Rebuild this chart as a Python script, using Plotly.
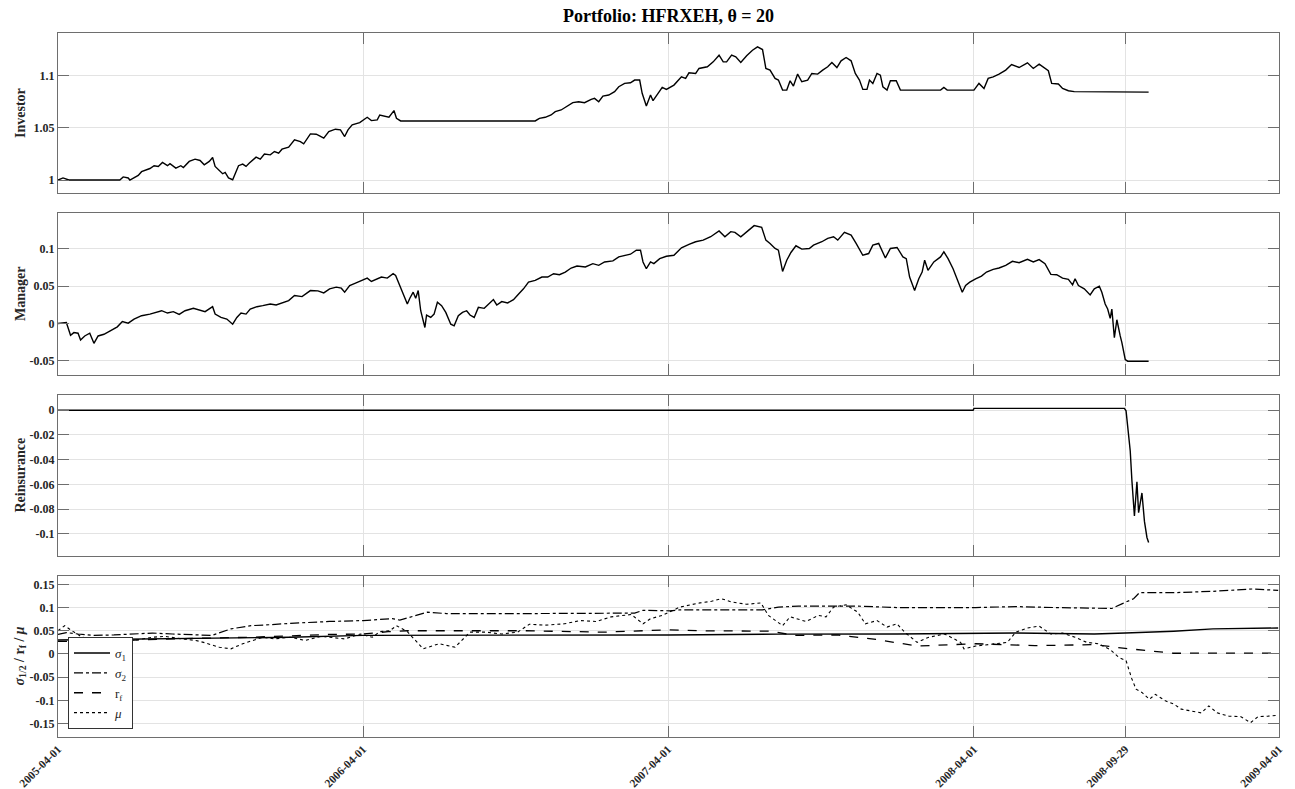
import pandas as pd
import plotly.graph_objects as go

# ---------------- data (days since 2005-04-01) -------------
START = "2005-04-01"

inv_days = [0, 6, 13, 74, 78, 84, 86, 96, 100, 110, 115, 120, 125, 131, 134, 141, 147, 150, 157, 164,
            170, 175, 181, 185, 188, 194, 197, 200, 204, 209, 213, 216, 221, 225, 229, 233, 237, 242, 247, 254,
            259, 264, 268, 276, 283, 290, 294, 302, 309, 313, 318, 324, 332, 338, 343, 347, 352, 361, 370, 375,
            382, 385, 391, 396, 402, 405, 410, 571, 576, 583, 590, 595, 602, 607, 616, 623, 630, 638, 642, 647,
            652, 659, 666, 671, 678, 685, 690, 696, 699, 704, 709, 712, 718, 723, 728, 737, 746, 751, 755, 763,
            767, 777, 784, 791, 796, 800, 806, 811, 817, 824, 831, 837, 843, 847, 852, 858, 862, 867, 872, 876,
            880, 885, 890, 897, 902, 909, 915, 921, 926, 932, 937, 943, 949, 954, 959, 963, 968, 971, 975, 980,
            984, 987, 992, 996, 1003, 1008, 1056, 1060, 1064, 1096, 1102, 1108, 1113, 1119, 1126, 1134, 1141,
            1150, 1160, 1167, 1174, 1181, 1185, 1189, 1197, 1202, 1209, 1216, 1305]
inv_vals = [1.000, 1.002, 1.000, 1.000, 1.003, 1.002, 1.000, 1.0044, 1.008, 1.011, 1.0137, 1.013, 1.0168,
            1.0137, 1.0156, 1.0114, 1.0137, 1.012, 1.0178, 1.020, 1.0187, 1.0146, 1.0178, 1.0216, 1.013, 1.008,
            1.006, 1.0073, 1.002, 1.0003, 1.0073, 1.0137, 1.0152, 1.013, 1.0162, 1.0194, 1.0219, 1.020, 1.0248,
            1.0241, 1.0273, 1.0257, 1.0295, 1.0314, 1.0384, 1.0368, 1.0346, 1.0441, 1.0438, 1.0422, 1.040,
            1.0464, 1.0486, 1.048, 1.0416, 1.048, 1.0527, 1.0549, 1.060, 1.0568, 1.0575, 1.0622, 1.0613, 1.060,
            1.0664, 1.0591, 1.0565, 1.0565, 1.059, 1.060, 1.0622, 1.0654, 1.067, 1.0695, 1.074, 1.0749, 1.074,
            1.0771, 1.0781, 1.0749, 1.0803, 1.0813, 1.0845, 1.0892, 1.0924, 1.093, 1.0956, 1.0956, 1.0829,
            1.0708, 1.0813, 1.0759, 1.0829, 1.0886, 1.0867, 1.0908, 1.0987, 1.0972, 1.1025, 1.1019, 1.1067,
            1.1083, 1.113, 1.1194, 1.113, 1.113, 1.1194, 1.1178, 1.1124, 1.1188, 1.1241, 1.1273, 1.1248, 1.1067,
            1.1051, 1.0972, 1.0956, 1.086, 1.086, 1.0949, 1.0899, 1.1013, 1.094, 1.0956, 1.1019, 1.1013, 1.1051,
            1.1083, 1.1124, 1.1076, 1.114, 1.1172, 1.114, 1.1019, 1.0956, 1.0867, 1.0867, 1.0956, 1.0924,
            1.1019, 1.1003, 1.0892, 1.086, 1.0949, 1.0949, 1.086, 1.086, 1.0886, 1.086, 1.086, 1.0924, 1.0876,
            1.0972, 1.0987, 1.1013, 1.1051, 1.1105, 1.1076, 1.1121, 1.1067, 1.1108, 1.1067, 1.1045, 1.0924,
            1.0918, 1.0876, 1.0854, 1.0845, 1.0841]

man_days = [0, 10, 15, 19, 24, 27, 32, 38, 43, 48, 55, 62, 71, 77, 84, 91, 100, 110, 117, 124, 131, 138,
            145, 152, 162, 171, 176, 185, 188, 195, 202, 209, 214, 219, 225, 230, 238, 245, 254, 261, 268, 276,
            283, 292, 302, 311, 318, 325, 333, 339, 343, 349, 356, 363, 370, 375, 382, 387, 394, 401, 404, 408,
            413, 418, 421, 425, 428, 431, 434, 439, 441, 446, 450, 454, 459, 464, 470, 474, 479, 484, 489, 493,
            498, 503, 510, 515, 521, 525, 531, 538, 545, 552, 557, 563, 571, 579, 586, 593, 600, 607, 614, 621,
            631, 640, 647, 654, 664, 671, 678, 685, 692, 697, 700, 704, 709, 713, 720, 728, 737, 746, 755, 763,
            772, 781, 791, 798, 805, 810, 817, 824, 833, 842, 847, 852, 858, 862, 867, 872, 877, 883, 890, 899,
            904, 914, 921, 928, 933, 941, 949, 955, 963, 970, 975, 982, 990, 996, 1004, 1011, 1015, 1019, 1025,
            1030, 1034, 1037, 1041, 1048, 1056, 1060, 1065, 1071, 1075, 1082, 1086, 1091, 1098, 1105, 1111,
            1119, 1126, 1134, 1142, 1150, 1160, 1167, 1174, 1181, 1188, 1195, 1202, 1209, 1214, 1217, 1221,
            1228, 1235, 1240, 1246, 1249, 1253, 1256, 1259, 1261, 1264, 1267, 1271, 1273, 1277, 1280, 1305]
man_vals = [0.0, 0.0014, -0.0158, -0.0122, -0.013, -0.022, -0.0167, -0.013, -0.0266, -0.0167, -0.0144,
            -0.0099, -0.0045, 0.0027, 0.0005, 0.0059, 0.0104, 0.0126, 0.0149, 0.0171, 0.014, 0.0158, 0.0122,
            0.0171, 0.0203, 0.018, 0.0158, 0.0225, 0.0126, 0.0081, 0.0059, -0.0009, 0.0081, 0.014, 0.0126,
            0.0194, 0.0225, 0.0239, 0.0261, 0.0248, 0.0275, 0.0306, 0.0374, 0.036, 0.0441, 0.0437, 0.041,
            0.0464, 0.0487, 0.0473, 0.0419, 0.0509, 0.0541, 0.0577, 0.0608, 0.0563, 0.0599, 0.0622, 0.0608,
            0.0667, 0.0644, 0.0532, 0.0374, 0.0261, 0.0338, 0.0419, 0.0338, 0.0441, 0.0171, -0.0054, 0.0113,
            0.0081, 0.0126, 0.0284, 0.0239, 0.0149, -0.0009, -0.0032, 0.0104, 0.0149, 0.0171, 0.0113, 0.0081,
            0.0216, 0.0203, 0.0261, 0.032, 0.0248, 0.0293, 0.0275, 0.032, 0.0405, 0.0464, 0.0554, 0.0577,
            0.0622, 0.0622, 0.0667, 0.0653, 0.0689, 0.0743, 0.077, 0.0757, 0.0802, 0.0779, 0.0824, 0.0838,
            0.0892, 0.0914, 0.0928, 0.0982, 0.0982, 0.0824, 0.0734, 0.0824, 0.0802, 0.0869, 0.0901, 0.0914,
            0.1014, 0.1059, 0.1095, 0.1117, 0.1162, 0.1239, 0.1162, 0.123, 0.1221, 0.1162, 0.123, 0.1311,
            0.1288, 0.1117, 0.1072, 0.1005, 0.0982, 0.0698, 0.0847, 0.0951, 0.1041, 0.0996, 0.1005, 0.105,
            0.1095, 0.114, 0.1162, 0.1117, 0.1221, 0.1185, 0.1072, 0.0914, 0.0937, 0.105, 0.1072, 0.0878,
            0.1005, 0.1018, 0.0892, 0.0869, 0.0622, 0.0441, 0.0599, 0.0689, 0.0847, 0.0712, 0.0824, 0.0892,
            0.096, 0.0869, 0.0734, 0.0622, 0.0419, 0.0509, 0.0554, 0.0599, 0.0635, 0.0689, 0.0725, 0.0743,
            0.0779, 0.0833, 0.0815, 0.086, 0.0824, 0.0856, 0.0802, 0.0658, 0.0653, 0.0608, 0.059, 0.0518,
            0.0599, 0.0509, 0.0464, 0.0383, 0.0464, 0.05, 0.0419, 0.0261, 0.0194, 0.0068, 0.0194, -0.0189,
            0.005, -0.0167, -0.0257, -0.0482, -0.0505, -0.0505]

rei_days = [0, 1095, 1096, 1276, 1278, 1280, 1283, 1285, 1288, 1291, 1293, 1297, 1300, 1303, 1305]
rei_vals = [0.0, 0.0, 0.0015, 0.0015, -0.0005, -0.016, -0.033, -0.057, -0.0856, -0.058, -0.083, -0.067,
            -0.09, -0.103, -0.107]

s1_days = [0, 90, 184, 278, 365, 465, 559, 730, 862, 1004, 1146, 1240, 1277, 1335, 1382, 1460]
s1_vals = [0.030, 0.032, 0.034, 0.036, 0.040, 0.040, 0.040, 0.041, 0.0427, 0.043, 0.045, 0.043, 0.045,
           0.049, 0.054, 0.056]

s2_days = [0, 10, 24, 43, 67, 90, 113, 137, 160, 184, 207, 231, 254, 278, 325, 365, 400, 409, 442, 465,
           559, 690, 700, 732, 744, 843, 862, 886, 957, 1004, 1098, 1146, 1193, 1240, 1261, 1273, 1287, 1294,
           1335, 1382, 1429, 1460]
s2_vals = [0.042, 0.046, 0.043, 0.040, 0.041, 0.043, 0.045, 0.043, 0.041, 0.040, 0.054, 0.061, 0.063,
           0.066, 0.070, 0.072, 0.076, 0.073, 0.090, 0.087, 0.087, 0.088, 0.094, 0.093, 0.095, 0.095, 0.101,
           0.103, 0.103, 0.100, 0.100, 0.102, 0.100, 0.098, 0.098, 0.108, 0.119, 0.132, 0.132, 0.135, 0.140,
           0.137]

rf_days = [0, 43, 137, 231, 325, 365, 395, 418, 559, 653, 700, 732, 768, 853, 881, 933, 980, 1028, 1098,
           1169, 1240, 1277, 1335, 1382, 1460]
rf_vals = [0.027, 0.027, 0.0325, 0.036, 0.042, 0.043, 0.048, 0.050, 0.050, 0.047, 0.050, 0.052, 0.050,
           0.049, 0.040, 0.041, 0.031, 0.017, 0.022, 0.018, 0.020, 0.012, 0.0015, 0.0015, 0.002]

mu_days = [0, 8, 15, 29, 43, 57, 71, 90, 113, 128, 146, 165, 174, 193, 207, 221, 245, 259, 278, 296, 315,
           343, 362, 376, 385, 397, 405, 418, 437, 456, 475, 493, 512, 531, 550, 564, 583, 606, 625, 644, 662,
           686, 700, 709, 723, 744, 768, 782, 794, 806, 824, 841, 850, 867, 876, 895, 910, 919, 928, 943, 957,
           966, 980, 992, 1004, 1013, 1028, 1042, 1061, 1080, 1084, 1098, 1122, 1136, 1146, 1160, 1174, 1188,
           1202, 1217, 1231, 1245, 1259, 1269, 1278, 1285, 1290, 1297, 1306, 1313, 1325, 1335, 1344, 1358,
           1368, 1377, 1387, 1401, 1415, 1427, 1436, 1448, 1460]
mu_vals = [0.050, 0.061, 0.052, 0.036, 0.0325, 0.027, 0.025, 0.029, 0.036, 0.038, 0.033, 0.029, 0.025,
           0.0145, 0.011, 0.022, 0.036, 0.0325, 0.036, 0.029, 0.038, 0.0325, 0.043, 0.036, 0.048, 0.050, 0.061,
           0.048, 0.011, 0.022, 0.0145, 0.047, 0.047, 0.043, 0.047, 0.064, 0.062, 0.065, 0.072, 0.070, 0.080,
           0.085, 0.065, 0.076, 0.083, 0.101, 0.110, 0.1135, 0.119, 0.112, 0.107, 0.110, 0.083, 0.061, 0.080,
           0.070, 0.083, 0.080, 0.101, 0.106, 0.090, 0.065, 0.072, 0.058, 0.065, 0.047, 0.025, 0.036, 0.043,
           0.025, 0.011, 0.017, 0.022, 0.025, 0.047, 0.056, 0.060, 0.043, 0.045, 0.036, 0.025, 0.022, 0.0094,
           -0.007, -0.0145, -0.054, -0.076, -0.083, -0.0976, -0.087, -0.101, -0.108, -0.119, -0.123, -0.127,
           -0.112, -0.127, -0.134, -0.135, -0.148, -0.135, -0.134, -0.132]

x_tick_labels = ["2005-04-01", "2006-04-01", "2007-04-01", "2008-04-01", "2008-09-29", "2009-04-01"]

y1_ticks = [1.0, 1.05, 1.1]
y1_labels = ["1", "1.05", "1.1"]
y2_ticks = [-0.05, 0.0, 0.05, 0.1]
y2_labels = ["-0.05", "0", "0.05", "0.1"]
y3_ticks = [-0.1, -0.08, -0.06, -0.04, -0.02, 0.0]
y3_labels = ["-0.1", "-0.08", "-0.06", "-0.04", "-0.02", "0"]
y4_ticks = [-0.15, -0.1, -0.05, 0.0, 0.05, 0.1, 0.15]
y4_labels = ["-0.15", "-0.1", "-0.05", "0", "0.05", "0.1", "0.15"]

panel_titles = ["Investor", "Manager", "Reinsurance", "<i>σ</i><sub>1/2</sub> / r<sub>f</sub> / <i>μ</i>"]
chart_title = "Portfolio: HFRXEH, θ = 20"


def to_dates(days):
    return pd.Timestamp(START) + pd.to_timedelta(days, unit="D")


# ---------------- figure -------------
W, H = 1295, 789
ML, MR, MT, MB = 58, 16, 33, 52
plot_h = H - MT - MB
plot_w = W - ML - MR
panels_px = [(33, 193), (213, 375), (395, 556), (576, 737)]
domains = [[(H - MB - b) / plot_h, (H - MB - t) / plot_h] for t, b in panels_px]

FONT = "Liberation Serif, Times New Roman, serif"
AXC = "#6e6e6e"
GRID = "#e3e3e3"

fig = go.Figure()
lw = 1.4
fig.add_trace(go.Scatter(x=to_dates(inv_days), y=inv_vals, mode="lines", line=dict(color="black", width=lw),
                         xaxis="x", yaxis="y", showlegend=False))
fig.add_trace(go.Scatter(x=to_dates(man_days), y=man_vals, mode="lines", line=dict(color="black", width=lw),
                         xaxis="x2", yaxis="y2", showlegend=False))
fig.add_trace(go.Scatter(x=to_dates(rei_days), y=rei_vals, mode="lines", line=dict(color="black", width=lw),
                         xaxis="x3", yaxis="y3", showlegend=False))
fig.add_trace(go.Scatter(x=to_dates(s1_days), y=s1_vals, mode="lines", name="<i>σ</i><sub>1</sub>",
                         line=dict(color="black", width=1.4, dash="solid"), xaxis="x4", yaxis="y4"))
fig.add_trace(go.Scatter(x=to_dates(s2_days), y=s2_vals, mode="lines", name="<i>σ</i><sub>2</sub>",
                         line=dict(color="black", width=1.2, dash="dashdot"), xaxis="x4", yaxis="y4"))
fig.add_trace(go.Scatter(x=to_dates(rf_days), y=rf_vals, mode="lines", name="r<sub>f</sub>",
                         line=dict(color="black", width=1.3, dash="dash"), xaxis="x4", yaxis="y4"))
fig.add_trace(go.Scatter(x=to_dates(mu_days), y=mu_vals, mode="lines", name="<i>μ</i>",
                         line=dict(color="black", width=1.1, dash="dot"), xaxis="x4", yaxis="y4"))

x_common = dict(
    type="date", range=[START, "2009-04-01"], tickmode="array",
    tickvals=x_tick_labels, ticktext=x_tick_labels, ticks="inside", ticklen=11, tickcolor=AXC,
    showline=True, linecolor=AXC, linewidth=1, mirror="ticks", showgrid=True, gridcolor=GRID,
    gridwidth=1, zeroline=False, domain=[0, 1], automargin=False,
)
y_common = dict(
    ticks="inside", ticklen=11, tickcolor=AXC, showline=True, linecolor=AXC, linewidth=1,
    mirror="ticks", showgrid=True, gridcolor=GRID, gridwidth=1, zeroline=False, tickmode="array",
    tickfont=dict(family=FONT, size=12, color="#262626", weight="bold"), automargin=False,
)

yranges = [[0.9876, 1.1406], [-0.069, 0.148], [-0.118, 0.0123], [-0.179, 0.168]]
yticks = [(y1_ticks, y1_labels), (y2_ticks, y2_labels), (y3_ticks, y3_labels), (y4_ticks, y4_labels)]

layout = dict()
for i in range(4):
    sfx = "" if i == 0 else str(i + 1)
    xa = dict(x_common)
    xa["anchor"] = "y" + sfx
    if i < 3:
        xa["showticklabels"] = False
        xa["matches"] = "x4"
    else:
        xa["tickangle"] = -45
        xa["tickfont"] = dict(family=FONT, size=11.5, color="#262626", weight="bold")
    ya = dict(y_common)
    ya["anchor"] = "x" + sfx
    ya["domain"] = domains[i]
    ya["range"] = yranges[i]
    ya["tickvals"] = yticks[i][0]
    ya["ticktext"] = yticks[i][1]
    layout["xaxis" + sfx] = xa
    layout["yaxis" + sfx] = ya

fig.update_layout(**layout)

annotations = []
for i, t in enumerate(panel_titles):
    annotations.append(dict(
        text="<b>" + t + "</b>", xref="paper", yref="paper", x=(20 - ML) / plot_w,
        y=(domains[i][0] + domains[i][1]) / 2, xanchor="center", yanchor="middle", textangle=-90,
        showarrow=False, font=dict(family=FONT, size=14, color="#262626"),
    ))

fig.update_layout(
    width=W, height=H, margin=dict(l=ML, r=MR, t=MT, b=MB, autoexpand=False),
    paper_bgcolor="white", plot_bgcolor="white",
    title=dict(text="<b>" + chart_title + "</b>", x=(ML + plot_w / 2) / W, xanchor="center",
               y=1 - 16 / H, yanchor="middle", font=dict(family=FONT, size=18, color="black")),
    annotations=annotations,
    legend=dict(x=(68 - ML) / plot_w, y=(H - MB - 729) / plot_h, xanchor="left", yanchor="bottom",
                bgcolor="white", bordercolor="#333333", borderwidth=1,
                font=dict(family=FONT, size=13, color="#262626"), tracegroupgap=0, itemwidth=36),
    showlegend=True,
)

fig.write_html("out.html", config={"displayModeBar": False},
               post_script="document.body.style.margin='0';document.body.style.overflow='hidden';")
